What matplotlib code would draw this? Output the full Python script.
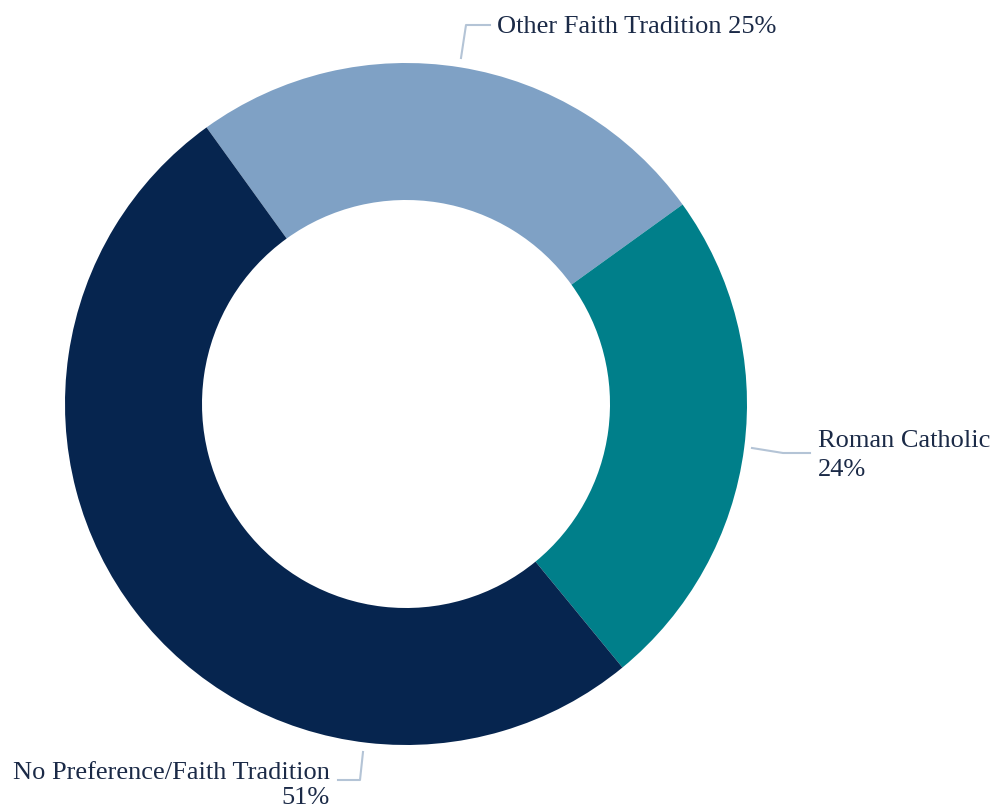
import matplotlib
matplotlib.use("Agg")
import matplotlib.pyplot as plt

categories = ["Other Faith Tradition", "Roman Catholic", "No Preference/Faith Tradition"]
values = [25, 24, 51]
colors = ["#7fa1c5", "#007f8a", "#06254f"]

W, H = 996, 810
fig = plt.figure(figsize=(W / 100, H / 100), dpi=100)
ax = fig.add_axes([0, 0, 1, 1])

cx, cy = 406, H - 404
R = 341
ring = 137
ax.pie(values, colors=colors, startangle=125.8, counterclock=False,
       center=(cx, cy), radius=R, frame=True,
       wedgeprops=dict(width=ring, linewidth=0))
ax.set_xlim(0, W)
ax.set_ylim(0, H)
ax.set_aspect("equal")
ax.axis("off")

txt = dict(family="Liberation Serif", fontsize=19, color="#1b2a47", va="baseline")
lc = "#b4c4d6"

# Other Faith Tradition
ax.plot([461, 466, 490], [H - 58, H - 25, H - 25], color=lc, lw=1.5)
ax.text(497, H - 33, f"{categories[0]} {values[0]}%", ha="left", **txt)

# Roman Catholic
ax.plot([752, 783, 810], [H - 448, H - 453, H - 453], color=lc, lw=1.5)
ax.text(818, H - 447, categories[1], ha="left", **txt)
ax.text(818, H - 476, f"{values[1]}%", ha="left", **txt)

# No Preference
ax.plot([363, 360, 338], [H - 752, H - 780, H - 780], color=lc, lw=1.5)
ax.text(330, H - 779, categories[2], ha="right", **txt)
ax.text(330, H - 804, f"{values[2]}%", ha="right", **txt)

fig.savefig("out.png", dpi=100, facecolor="white")
